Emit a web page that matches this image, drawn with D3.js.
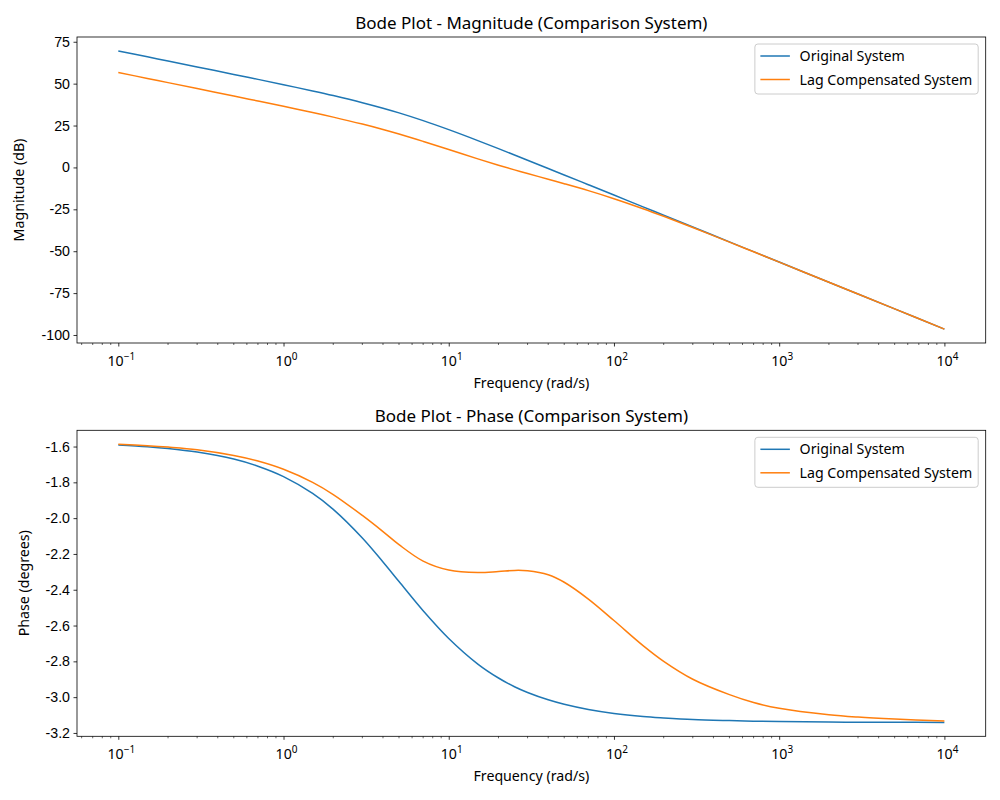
<!DOCTYPE html>
<html>
<head>
<meta charset="utf-8">
<script src="https://cdn.jsdelivr.net/npm/d3@7"></script>
<style>
  body { margin: 0; background: #fff; }
  svg { font-family: "Noto Sans", "Open Sans", sans-serif; }
</style>
</head>
<body>
<div id="chart"></div>
<script>
// frequencies (rad/s) the curves are read at
const freqs = [0.1, 0.15, 0.2, 0.3, 0.5, 0.7, 1, 1.5, 2, 3, 4, 5, 7, 10, 15, 20, 25, 30, 40, 50, 70,
  100, 150, 200, 300, 500, 700, 1000, 2000, 3000, 5000, 10000]

// magnitude (dB)
const magOriginal = [69.54, 66.02, 63.51, 59.98, 55.52, 52.56, 49.37, 45.65, 42.88, 38.66, 35.35, 32.55, 27.93,
  22.55, 16.02, 11.22, 7.43, 4.32, -0.63, -4.48, -10.31, -16.49, -23.53, -28.52, -35.57, -44.44, -50.28,
  -56.48, -68.52, -75.56, -84.44, -96.48]
const magLag = [56.64, 53.12, 50.61, 47.08, 42.62, 39.66, 36.48, 32.77, 30.02, 25.86, 22.63, 19.92, 15.55,
  10.66, 5.10, 1.34, -1.45, -3.65, -7.04, -9.69, -13.85, -18.64, -24.63, -29.18, -35.88, -44.55, -50.34,
  -56.51, -68.53, -75.56, -84.44, -96.48]

// phase (the axis says degrees, values are radians)
const phaseOriginal = [-1.591, -1.601, -1.611, -1.631, -1.670, -1.710, -1.768, -1.862, -1.951, -2.111, -2.245,
  -2.354, -2.517, -2.672, -2.815, -2.893, -2.942, -2.974, -3.015, -3.040, -3.069, -3.091, -3.108, -3.116,
  -3.125, -3.131, -3.134, -3.136, -3.139, -3.140, -3.140, -3.141]
const phaseLag = [-1.587, -1.595, -1.603, -1.618, -1.650, -1.681, -1.727, -1.800, -1.868, -1.985, -2.075,
  -2.148, -2.240, -2.290, -2.304, -2.298, -2.292, -2.294, -2.316, -2.358, -2.452, -2.572, -2.712, -2.800,
  -2.900, -2.986, -3.030, -3.062, -3.098, -3.111, -3.122, -3.133]

const seriesNames = ["Original System", "Lag Compensated System"]
const magTicks = [75, 50, 25, 0, -25, -50, -75, -100]
const phaseTicks = [-1.6, -1.8, -2.0, -2.2, -2.4, -2.6, -2.8, -3.0, -3.2]
const decades = [-1, 0, 1, 2, 3, 4]

const colors = ["#1f77b4", "#ff7f0e"]

var svg = d3.select("#chart").append("svg")
  .attr("width", 1000)
  .attr("height", 800)

var left = 77, right = 985.7
var fs = "14.2px"

function drawPanel(opt) {
  var top = opt.top, bottom = opt.top + 306
  var x = d3.scaleLog().domain([Math.pow(10, -1.25), Math.pow(10, 4.25)]).range([left, right])
  var lo = d3.min(opt.series, s => d3.min(s)), hi = d3.max(opt.series, s => d3.max(s))
  var pad = (hi - lo) * 0.05
  var y = d3.scaleLinear().domain([lo - pad, hi + pad]).range([bottom, top])

  var g = svg.append("g")

  // lines
  var line = d3.line()
    .x((d, i) => x(freqs[i]))
    .y(d => y(d))
    .curve(d3.curveCatmullRom.alpha(0.5))
  opt.series.forEach(function (s, i) {
    g.append("path")
      .attr("d", line(s))
      .attr("fill", "none")
      .attr("stroke", colors[i])
      .attr("stroke-width", 1.5)
  })

  // y axis
  var yAxis = d3.axisLeft(y).tickValues(opt.ticks).tickSize(3.5).tickPadding(3.5)
    .tickFormat(opt.fmt)
  var ya = g.append("g").attr("transform", "translate(" + left + ",0)").call(yAxis)
  ya.select(".domain").remove()
  ya.selectAll("line").attr("stroke", "#000").attr("stroke-width", 0.8)
  ya.selectAll("text").attr("font-size", fs).attr("fill", "#000").attr("font-family", null)

  // x axis, major ticks with 10^n labels
  var xa = g.append("g").attr("transform", "translate(0," + bottom + ")")
  var majors = decades.map(d => Math.pow(10, d))
  xa.call(d3.axisBottom(x).tickValues(majors).tickSize(3.5).tickFormat(""))
  xa.select(".domain").remove()
  xa.selectAll("line").attr("stroke", "#000").attr("stroke-width", 0.8)
  var minors = []
  d3.range(-2, 5).forEach(function (d) {
    for (var k = 2; k <= 9; k++) {
      var v = k * Math.pow(10, d)
      if (v > x.domain()[0] && v < x.domain()[1]) minors.push(v)
    }
  })
  xa.selectAll(".minor").data(minors).enter().append("line")
    .attr("x1", d => x(d)).attr("x2", d => x(d))
    .attr("y1", 0).attr("y2", 2)
    .attr("stroke", "#000").attr("stroke-width", 0.6)
  var lbl = xa.selectAll(".lbl").data(decades).enter().append("text")
    .attr("x", d => x(Math.pow(10, d)) + 3)
    .attr("y", 23)
    .attr("text-anchor", "middle")
    .attr("fill", "#000")
    .attr("font-family", "'Noto Sans', sans-serif")
    .attr("font-size", fs)
  lbl.append("tspan").text("10")
  lbl.append("tspan").attr("dy", -6).attr("font-size", "10px")
    .text(d => (d < 0 ? "\u2212" + (-d) : "" + d))

  // frame
  g.append("rect")
    .attr("x", left).attr("y", top)
    .attr("width", right - left).attr("height", bottom - top)
    .attr("fill", "none").attr("stroke", "#000").attr("stroke-width", 0.8)

  // titles
  g.append("text")
    .attr("x", (left + right) / 2).attr("y", top - 8)
    .attr("text-anchor", "middle").attr("font-size", "17px")
    .text(opt.title)
  g.append("text")
    .attr("x", (left + right) / 2).attr("y", bottom + 45)
    .attr("text-anchor", "middle").attr("font-size", fs)
    .text("Frequency (rad/s)")
  g.append("text")
    .attr("transform", "translate(" + opt.ylabelX + "," + (top + bottom) / 2 + ") rotate(-90)")
    .attr("text-anchor", "middle").attr("font-size", fs)
    .text(opt.ylabel)

  // legend
  var leg = g.append("g")
  var box = leg.append("rect")
    .attr("rx", 3).attr("ry", 3)
    .attr("fill", "#fff").attr("fill-opacity", 0.8)
    .attr("stroke", "#ccc").attr("stroke-width", 1)
  var maxW = 0
  seriesNames.forEach(function (n, i) {
    var t = leg.append("text")
      .attr("y", top + 19 + i * 23.5 + 5)
      .attr("font-size", fs)
      .text(n)
    maxW = Math.max(maxW, t.node().getComputedTextLength())
  })
  var bw = 44.7 + maxW + 6
  var bx = right - 7.5 - bw
  box.attr("x", bx).attr("y", top + 7).attr("width", bw).attr("height", 50)
  leg.selectAll("text").attr("x", bx + 44.7)
  seriesNames.forEach(function (n, i) {
    leg.append("line")
      .attr("x1", bx + 5.5).attr("x2", bx + 35)
      .attr("y1", top + 19 + i * 23.5).attr("y2", top + 19 + i * 23.5)
      .attr("stroke", colors[i]).attr("stroke-width", 1.5)
  })
}

drawPanel({
  top: 37,
  series: [magOriginal, magLag],
  ticks: magTicks,
  fmt: d => d3.format("d")(d).replace("\u2212", "-"),
  title: "Bode Plot - Magnitude (Comparison System)",
  ylabel: "Magnitude (dB)",
  ylabelX: 24
})

drawPanel({
  top: 430.3,
  series: [phaseOriginal, phaseLag],
  ticks: phaseTicks,
  fmt: d => d3.format(".1f")(d).replace("\u2212", "-"),
  title: "Bode Plot - Phase (Comparison System)",
  ylabel: "Phase (degrees)",
  ylabelX: 29
})
</script>
</body>
</html>
